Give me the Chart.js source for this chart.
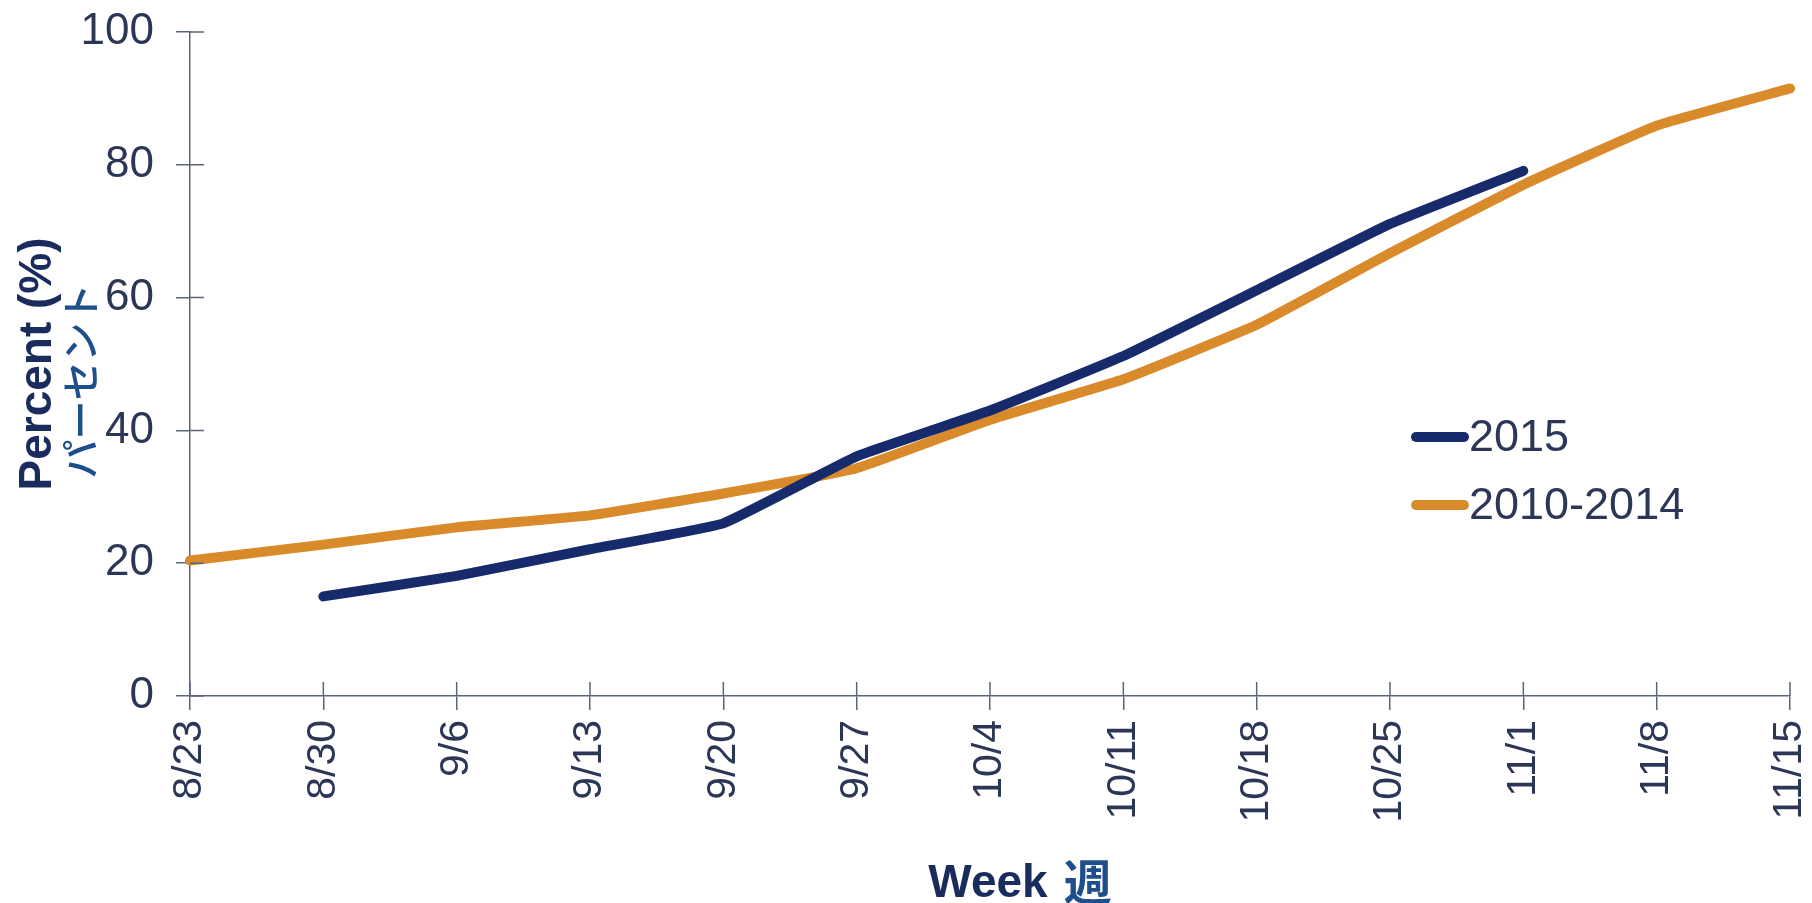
<!DOCTYPE html>
<html>
<head>
<meta charset="utf-8">
<title>Week / Percent</title>
<script src="https://cdn.jsdelivr.net/npm/chart.js@4.4.1/dist/chart.umd.min.js"></script>
<style>
    html, body { margin: 0; padding: 0; background: #ffffff; }
    #wrap { width: 1812px; height: 903px; }
</style>
</head>
<body>
<div id="wrap"><canvas id="chart" width="1812" height="903"></canvas></div>
<script>
//Data
const weeks = ['8/23', '8/30', '9/6', '9/13', '9/20', '9/27', '10/4', '10/11', '10/18', '10/25', '11/1', '11/8', '11/15'];
const percent2015 = [null, 15.0, 18.1, 22.1, 26.0, 36.1, 43.0, 51.2, 61.1, 71.1, 79.1, null, null];
const percent2010to2014 = [20.4, 22.8, 25.4, 27.2, 30.5, 34.3, 41.6, 47.7, 55.9, 66.7, 77.0, 85.9, 91.5];
const seriesNames = ['2015', '2010-2014'];
const yTicks = [0, 20, 40, 60, 80, 100];

//Styles
const navy = '#172a6b';
const orange = '#d98b2b';
const tickColor = '#2c3757';
const axisColor = '#5b6579';
const titleNavy = '#1a2b5e';
const titleBlue = '#1f4e8c';
const font = '"Liberation Sans", Arial, sans-serif';
const cjkFont = '"Noto Sans CJK JP", "Noto Sans", sans-serif';
const tickLen = 14;

/**
 * Draws the inner half of each tick mark, so the ticks cross the axis lines.
 */
const crossTicks = {
    id: 'crossTicks',
    afterDraw(chart) {
        const ctx = chart.ctx;
        const x = chart.scales.x;
        const y = chart.scales.y;
        ctx.save();
        ctx.strokeStyle = axisColor;
        ctx.lineWidth = 1.5;
        ctx.beginPath();
        y.ticks.forEach((t, i) => {
            let py = y.getPixelForTick(i);
            ctx.moveTo(x.left, py);
            ctx.lineTo(x.left + tickLen, py);
        });
        x.ticks.forEach((t, i) => {
            let px = x.getPixelForTick(i);
            ctx.moveTo(px, y.bottom);
            ctx.lineTo(px, y.bottom - tickLen);
        });
        ctx.stroke();
        ctx.restore();
    }
};

/**
 * Axis titles in two languages, each part in its own style.
 */
const axisTitles = {
    id: 'axisTitles',
    afterDraw(chart) {
        const ctx = chart.ctx;
        const area = chart.chartArea;
        ctx.save();
        ctx.textBaseline = 'middle';
        ctx.textAlign = 'center';

        // y title
        ctx.save();
        ctx.translate(38, 364);
        ctx.rotate(-Math.PI / 2);
        ctx.fillStyle = titleNavy;
        ctx.font = `bold 46px ${font}`;
        ctx.fillText('Percent (%)', 0, 0);
        ctx.restore();

        ctx.save();
        ctx.translate(80, 381);
        ctx.rotate(-Math.PI / 2);
        ctx.fillStyle = titleBlue;
        ctx.font = `500 39px ${cjkFont}`;
        ctx.fillText('パーセント', 0, 0);
        ctx.restore();

        // x title
        ctx.textAlign = 'left';
        ctx.font = `bold 46px ${font}`;
        let w1 = ctx.measureText('Week').width;
        ctx.font = `bold 48px ${cjkFont}`;
        let w2 = ctx.measureText('週').width;
        let gap = 16;
        let cx = (area.left + area.right) / 2 + 30;
        let sx = cx - (w1 + gap + w2) / 2;
        ctx.fillStyle = titleNavy;
        ctx.font = `bold 46px ${font}`;
        ctx.fillText('Week', sx, 884);
        ctx.fillStyle = titleBlue;
        ctx.font = `bold 48px ${cjkFont}`;
        ctx.fillText('週', sx + w1 + gap, 882);
        ctx.restore();
    }
};

/**
 * Legend placed inside the plot, lower right.
 */
const innerLegend = {
    id: 'innerLegend',
    afterDraw(chart) {
        const ctx = chart.ctx;
        const lx = 1412;
        const ly = 437;
        const rowGap = 68;
        ctx.save();
        ctx.textBaseline = 'middle';
        ctx.textAlign = 'left';
        ctx.font = `45px ${font}`;
        chart.data.datasets.forEach((ds, i) => {
            let yy = ly + i * rowGap;
            ctx.strokeStyle = ds.borderColor;
            ctx.lineWidth = 10;
            ctx.lineCap = 'round';
            ctx.beginPath();
            ctx.moveTo(lx + 4, yy);
            ctx.lineTo(lx + 52, yy);
            ctx.stroke();
            ctx.fillStyle = tickColor;
            ctx.fillText(ds.label, lx + 57, yy + 2);
        });
        ctx.restore();
    }
};

let chart = new Chart(document.getElementById('chart'), {
    type: 'line',
    data: {
        labels: weeks,
        datasets: [{
            label: seriesNames[0],
            data: percent2015,
            borderColor: navy,
            backgroundColor: navy,
            borderWidth: 10,
            pointRadius: 0,
            tension: 0.1,
            borderCapStyle: 'round',
            borderJoinStyle: 'round',
            spanGaps: false
        }, {
            label: seriesNames[1],
            data: percent2010to2014,
            borderColor: orange,
            backgroundColor: orange,
            borderWidth: 10,
            pointRadius: 0,
            tension: 0.1,
            borderCapStyle: 'round',
            borderJoinStyle: 'round'
        }]
    },
    options: {
        responsive: false,
        animation: false,
        devicePixelRatio: 1,
        layout: {
            padding: { top: 32, right: 22, left: 0, bottom: 0 }
        },
        plugins: {
            legend: { display: false },
            tooltip: { enabled: false }
        },
        scales: {
            x: {
                offset: false,
                grid: {
                    drawOnChartArea: false,
                    drawTicks: true,
                    tickLength: tickLen,
                    color: axisColor,
                    lineWidth: 1.5
                },
                border: { color: axisColor, width: 1.5 },
                ticks: {
                    color: tickColor,
                    font: { family: font, size: 41 },
                    minRotation: 90,
                    maxRotation: 90,
                    padding: 10,
                    autoSkip: false
                },
                afterFit: (s) => {
                    s.height = 207;
                    s.paddingLeft = 0;
                    s.paddingRight = 0;
                }
            },
            y: {
                min: yTicks[0],
                max: yTicks[yTicks.length - 1],
                afterBuildTicks: (s) => { s.ticks = yTicks.map(v => ({ value: v })); },
                grid: {
                    drawOnChartArea: false,
                    drawTicks: true,
                    tickLength: tickLen,
                    color: axisColor,
                    lineWidth: 1.5
                },
                border: { color: axisColor, width: 1.5 },
                ticks: {
                    color: tickColor,
                    font: { family: font, size: 44 },
                    padding: 22
                },
                afterFit: (s) => {
                    s.width = 190;
                    s.paddingTop = 0;
                    s.paddingBottom = 0;
                }
            }
        }
    },
    plugins: [crossTicks, axisTitles, innerLegend]
});
</script>
</body>
</html>
